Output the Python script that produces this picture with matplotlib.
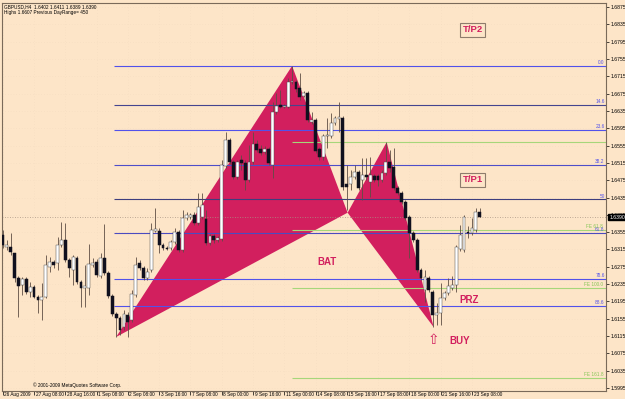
import matplotlib
matplotlib.use("Agg")
import matplotlib.pyplot as plt
from matplotlib.transforms import ScaledTranslation

plt.rcParams["font.family"] = ["Liberation Sans", "DejaVu Sans"]

# GBPUSD H4 candles, 26 Aug - 23 Sep 2009
opens = [
    1.6349, 1.6321, 1.6321, 1.6307, 1.6249, 1.6233, 1.6247, 1.6217, 1.6228, 1.6205,
    1.6198, 1.6205, 1.6275, 1.6286, 1.6284, 1.6325, 1.6337, 1.6291, 1.6268, 1.6295,
    1.6240, 1.6226, 1.6226, 1.6279, 1.6286, 1.6254, 1.6295, 1.6261, 1.6208, 1.6166,
    1.6157, 1.6136, 1.6164, 1.6152, 1.6210, 1.6284, 1.6272, 1.6249, 1.6268, 1.6358,
    1.6358, 1.6325, 1.6318, 1.6318, 1.6332, 1.6355, 1.6314, 1.6388, 1.6390, 1.6395,
    1.6376, 1.6390, 1.6385, 1.6330, 1.6346, 1.6337, 1.6339, 1.6508, 1.6568, 1.6517,
    1.6482, 1.6522, 1.6515, 1.6476, 1.6517, 1.6559, 1.6547, 1.6540, 1.6547, 1.6510,
    1.6633, 1.6649, 1.6644, 1.6644, 1.6702, 1.6702, 1.6688, 1.6669, 1.6676, 1.6609,
    1.6614, 1.6547, 1.6529, 1.6577, 1.6577, 1.6607, 1.6616, 1.6619, 1.6466, 1.6466,
    1.6482, 1.6494, 1.6476, 1.6487, 1.6471, 1.6485, 1.6485, 1.6476, 1.6492, 1.6517,
    1.6505, 1.6457, 1.6446, 1.6425, 1.6390, 1.6353, 1.6337, 1.6268, 1.6222, 1.6249,
    1.6217, 1.6164, 1.6168, 1.6203, 1.6215, 1.6226, 1.6233, 1.6316, 1.6314, 1.6355,
    1.6353, 1.6360, 1.6402,
]
highs = [
    1.6360, 1.6337, 1.6353, 1.6307, 1.6254, 1.6252, 1.6252, 1.6240, 1.6233, 1.6210,
    1.6238, 1.6302, 1.6298, 1.6291, 1.6344, 1.6379, 1.6376, 1.6295, 1.6302, 1.6300,
    1.6245, 1.6279, 1.6328, 1.6295, 1.6293, 1.6307, 1.6374, 1.6265, 1.6212, 1.6171,
    1.6161, 1.6175, 1.6171, 1.6222, 1.6298, 1.6291, 1.6277, 1.6272, 1.6376, 1.6411,
    1.6365, 1.6330, 1.6323, 1.6337, 1.6365, 1.6360, 1.6406, 1.6402, 1.6399, 1.6402,
    1.6446, 1.6446, 1.6406, 1.6351, 1.6351, 1.6346, 1.6522, 1.6586, 1.6572, 1.6522,
    1.6522, 1.6533, 1.6522, 1.6556, 1.6586, 1.6568, 1.6556, 1.6554, 1.6552, 1.6656,
    1.6676, 1.6683, 1.6651, 1.6711, 1.6739, 1.6706, 1.6723, 1.6681, 1.6681, 1.6633,
    1.6619, 1.6552, 1.6582, 1.6619, 1.6630, 1.6623, 1.6656, 1.6623, 1.6510, 1.6499,
    1.6510, 1.6499, 1.6526, 1.6526, 1.6529, 1.6489, 1.6489, 1.6499, 1.6563, 1.6545,
    1.6549, 1.6462, 1.6450, 1.6429, 1.6395, 1.6358, 1.6342, 1.6272, 1.6268, 1.6254,
    1.6222, 1.6192, 1.6238, 1.6219, 1.6249, 1.6254, 1.6325, 1.6372, 1.6395, 1.6369,
    1.6388, 1.6411, 1.6411,
]
lows = [
    1.6318, 1.6314, 1.6302, 1.6240, 1.6159, 1.6210, 1.6212, 1.6205, 1.6203, 1.6168,
    1.6152, 1.6203, 1.6263, 1.6272, 1.6268, 1.6321, 1.6286, 1.6252, 1.6233, 1.6235,
    1.6182, 1.6182, 1.6210, 1.6275, 1.6252, 1.6249, 1.6256, 1.6203, 1.6161, 1.6113,
    1.6118, 1.6129, 1.6113, 1.6148, 1.6205, 1.6268, 1.6245, 1.6245, 1.6263, 1.6355,
    1.6307, 1.6314, 1.6314, 1.6314, 1.6328, 1.6309, 1.6309, 1.6383, 1.6385, 1.6372,
    1.6372, 1.6385, 1.6325, 1.6325, 1.6330, 1.6332, 1.6335, 1.6503, 1.6512, 1.6478,
    1.6478, 1.6499, 1.6452, 1.6471, 1.6512, 1.6540, 1.6533, 1.6536, 1.6510, 1.6480,
    1.6628, 1.6642, 1.6642, 1.6642, 1.6697, 1.6679, 1.6660, 1.6667, 1.6609, 1.6605,
    1.6538, 1.6522, 1.6522, 1.6549, 1.6572, 1.6602, 1.6586, 1.6452, 1.6406, 1.6452,
    1.6478, 1.6452, 1.6429, 1.6476, 1.6436, 1.6471, 1.6462, 1.6471, 1.6487, 1.6494,
    1.6452, 1.6441, 1.6420, 1.6383, 1.6295, 1.6332, 1.6263, 1.6245, 1.6194, 1.6217,
    1.6136, 1.6141, 1.6141, 1.6198, 1.6210, 1.6222, 1.6217, 1.6312, 1.6309, 1.6342,
    1.6349, 1.6355, 1.6389,
]
closes = [
    1.6325, 1.6325, 1.6309, 1.6249, 1.6231, 1.6247, 1.6217, 1.6228, 1.6205, 1.6198,
    1.6205, 1.6279, 1.6286, 1.6279, 1.6325, 1.6337, 1.6291, 1.6272, 1.6298, 1.6240,
    1.6226, 1.6231, 1.6282, 1.6284, 1.6256, 1.6295, 1.6261, 1.6208, 1.6166, 1.6157,
    1.6129, 1.6166, 1.6148, 1.6212, 1.6279, 1.6272, 1.6249, 1.6263, 1.6360, 1.6362,
    1.6325, 1.6318, 1.6316, 1.6332, 1.6355, 1.6314, 1.6388, 1.6395, 1.6395, 1.6376,
    1.6413, 1.6418, 1.6330, 1.6346, 1.6337, 1.6342, 1.6510, 1.6568, 1.6517, 1.6482,
    1.6517, 1.6515, 1.6476, 1.6517, 1.6559, 1.6545, 1.6538, 1.6547, 1.6515, 1.6633,
    1.6646, 1.6644, 1.6646, 1.6702, 1.6704, 1.6686, 1.6667, 1.6676, 1.6614, 1.6614,
    1.6542, 1.6529, 1.6577, 1.6579, 1.6607, 1.6619, 1.6621, 1.6459, 1.6459, 1.6482,
    1.6494, 1.6457, 1.6487, 1.6482, 1.6487, 1.6476, 1.6476, 1.6492, 1.6517, 1.6503,
    1.6457, 1.6446, 1.6425, 1.6388, 1.6353, 1.6337, 1.6268, 1.6249, 1.6252, 1.6222,
    1.6164, 1.6168, 1.6203, 1.6215, 1.6231, 1.6233, 1.6321, 1.6349, 1.6390, 1.6353,
    1.6365, 1.6402, 1.6390,
]

# time axis labels, one every 8 bars
date_ticks = list(range(0, 121, 8))
date_labels = ["26 Aug 2009", "27 Aug 08:00", "28 Aug 16:00", "1 Sep 08:00",
               "2 Sep 08:00", "3 Sep 16:00", "7 Sep 08:00", "8 Sep 00:00",
               "9 Sep 16:00", "11 Sep 00:00", "14 Sep 08:00", "15 Sep 16:00",
               "17 Sep 08:00", "18 Sep 00:00", "21 Sep 16:00", "23 Sep 08:00"]
price_ticks = [1.6875 - 0.004 * k for k in range(23)]

# BAT pattern pivots: X, A, B, C, D  (bar index, price)
piv_bar = [29, 74, 88.2, 98.2, 110.2]
piv_px = [1.6113, 1.6739, 1.6400, 1.6563, 1.6136]

# Fibonacci retracement of XA (blue) and extensions (green)
fib_labels = ["0.0", "14.6", "23.6", "38.2", "50", "61.8", "78.6", "88.6"]
fib_prices = [1.6739, 1.6649, 1.6591, 1.6510, 1.6431, 1.6354, 1.6248, 1.6185]
fib_colors = ["#5252EA", "#45458F", "#5252EA", "#4E4EC8",
              "#3E3E7E", "#4B4BC0", "#5252EA", "#5252EA"]
fe_labels = ["", "FE 61.8", "FE 100.0", "FE 161.8"]
fe_prices = [1.6563, 1.6360, 1.6226, 1.6018]

last_price = 1.6390

BG = "#FDE5C8"
MAG = "#D21F5E"
BLUE = "#5252EA"
GREEN = "#A6D67A"
FRAME = "#7A6A5A"
FS = 3.4

fig = plt.figure(figsize=(6.25, 3.99), dpi=100, facecolor=BG)
ax = fig.add_axes([2 / 625, 8 / 399, 604 / 625, 388 / 399], facecolor=BG)
ax.set_xlim(-0.2, 154.3)
ax.set_ylim(1.59882, 1.68843)

# faint dotted grid
for p in price_ticks:
    ax.axhline(p, color="#F0D8BC", lw=0.4, ls=(0, (1, 4)), zorder=0)
for t in date_ticks:
    ax.axvline(t, color="#F0D8BC", lw=0.4, ls=(0, (1, 4)), zorder=0)

# pattern triangles X-A-B and B-C-D
ax.fill(piv_bar[0:3], piv_px[0:3], color=MAG, lw=0, zorder=1)
ax.fill(piv_bar[2:5], piv_px[2:5], color=MAG, lw=0, zorder=1)

xmax = ax.get_xlim()[1]
for lab, p, col in zip(fib_labels, fib_prices, fib_colors):
    ax.hlines(p, piv_bar[0] - 0.6, xmax, color=col, lw=0.8, zorder=2)
    ax.annotate(lab, (1.0, p), xycoords=("axes fraction", "data"),
                xytext=(-1.0, 0.5), textcoords="offset points",
                ha="right", va="bottom", fontsize=FS, color=BLUE, zorder=6)
for lab, p in zip(fe_labels, fe_prices):
    ax.hlines(p, piv_bar[1], xmax, color=GREEN, lw=0.8, zorder=2)
    if lab:
        ax.annotate(lab, (1.0, p), xycoords=("axes fraction", "data"),
                    xytext=(-2.0, 0.5), textcoords="offset points",
                    ha="right", va="bottom", fontsize=FS, color="#86C656", zorder=6)

ax.axhline(last_price, color="#A89484", lw=0.6, ls=(0, (1, 2)), zorder=2)

# candles
n = len(opens)
bars = list(range(n))
ax.vlines(bars, lows, highs, color="#5E4E44", lw=0.6, zorder=3)
for i in bars:
    o, c = opens[i], closes[i]
    bottom = min(o, c)
    h = max(abs(c - o), 0.00006)
    if c >= o:
        ax.bar(i, h, bottom=bottom, width=0.72, color="white",
               edgecolor="#505050", lw=0.35, zorder=4)
    else:
        ax.bar(i, h, bottom=bottom, width=0.72, color="#10101E",
               edgecolor="#10101E", lw=0.35, zorder=4)

# annotations
big = dict(color=MAG, fontsize=7, fontweight="bold", ha="center",
           va="center", zorder=6)
ax.text(82.9, 1.6286, "BAT", **big)
ax.text(119.2, 1.6198, "PRZ", **big)
ax.text(116.8, 1.6104, "BUY", **big)
ax.text(110.1, 1.6107, "\u21e7", color=MAG, fontsize=10, family="DejaVu Sans",
        ha="center", va="center", zorder=6)
box = dict(boxstyle="square,pad=0.25", fc="none", ec="#8E7C6C", lw=0.8)
ax.text(120.2, 1.6476, "T/P1", bbox=box, **dict(big, fontsize=6.8))
ax.text(120.2, 1.6822, "T/P2", bbox=box, **dict(big, fontsize=6.8))

# header / footer text
ax.text(0.003, 0.996, "GBPUSD,H4  1.6402 1.6411 1.6389 1.6390",
        transform=ax.transAxes, fontsize=FS, va="top", ha="left")
ax.text(0.003, 0.981, "Highs 1.6607 Previous DayRange= 450",
        transform=ax.transAxes, fontsize=FS, va="top", ha="left")
ax.text(0.052, 0.008, "\u00a9 2001-2009 MetaQuotes Software Corp.",
        transform=ax.transAxes, fontsize=FS, va="bottom", ha="left")

# axes
for s in ax.spines.values():
    s.set_color(FRAME)
    s.set_linewidth(0.8)
ax.yaxis.tick_right()
ax.set_yticks(price_ticks)
ax.set_yticklabels(["%.4f" % p for p in price_ticks])
ax.tick_params(axis="y", length=2, width=0.5, pad=1.2, labelsize=3.7,
               colors="black")
ax.set_xticks(date_ticks)
ax.set_xticklabels(date_labels, ha="left")
ax.tick_params(axis="x", length=3, width=0.5, pad=-2.2, labelsize=FS,
               colors="black")
shift = ScaledTranslation(1.6 / 100, 0, fig.dpi_scale_trans)
for lab in ax.get_xticklabels():
    lab.set_transform(lab.get_transform() + shift)

ax.annotate("%.4f" % last_price, (1.0, last_price),
            xycoords=("axes fraction", "data"), xytext=(2.3, 0),
            textcoords="offset points", ha="left", va="center",
            fontsize=3.7, color="white", annotation_clip=False,
            bbox=dict(boxstyle="square,pad=0.15", fc="black", ec="black"),
            zorder=10)

fig.savefig("out.png", dpi=100, facecolor=BG)
